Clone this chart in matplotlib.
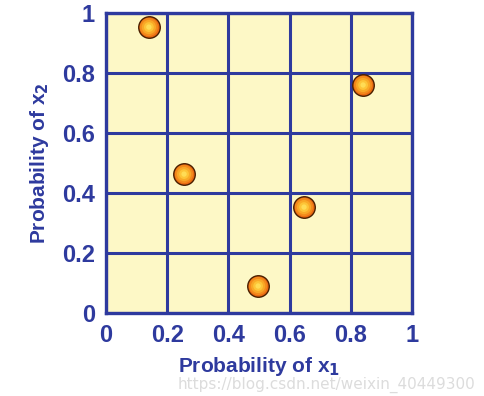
import matplotlib
matplotlib.use("Agg")
import matplotlib.pyplot as plt

# values
px1 = [0.14, 0.255, 0.497, 0.647, 0.84]
px2 = [0.953, 0.463, 0.09, 0.353, 0.76]
ticks = [0, 0.2, 0.4, 0.6, 0.8, 1]
tick_labels = ["0", "0.2", "0.4", "0.6", "0.8", "1"]

plt.rcParams["font.family"] = ["Liberation Sans", "DejaVu Sans"]

BLUE = "#2e3a9e"
BG = "#fdf8c6"

fig = plt.figure(figsize=(4.85, 3.96), dpi=100)
ax = fig.add_axes([0.2186, 0.2096, 0.631, 0.7576])
ax.set_facecolor(BG)
ax.set_xlim(0, 1)
ax.set_ylim(0, 1)
ax.set_xticks(ticks)
ax.set_yticks(ticks)
ax.set_xticklabels(tick_labels)
ax.set_yticklabels(tick_labels)
ax.tick_params(length=0, labelsize=17, labelcolor=BLUE, pad=8)
for lab in ax.get_xticklabels() + ax.get_yticklabels():
    lab.set_fontweight("bold")
ax.grid(True, color=BLUE, linewidth=2.2)
for s in ax.spines.values():
    s.set_color(BLUE)
    s.set_linewidth(2.4)

# ball markers: orange rim fading to a yellow centre
ax.scatter(px1, px2, s=240, color="#ea6a12", edgecolor="#4a1f00", linewidth=1.0, zorder=3)
for size, col in [(170, "#f38a1c"), (105, "#f9a826"), (50, "#fdc437"), (15, "#ffdc55")]:
    ax.scatter(px1, px2, s=size, color=col, edgecolor="none", zorder=4)

ax.set_xlabel("Probability of x$_\\mathbf{1}$", fontsize=15, fontweight="bold", color=BLUE, labelpad=6)
ax.set_ylabel("Probability of x$_\\mathbf{2}$", fontsize=15, fontweight="bold", color=BLUE, labelpad=8)

fig.text(0.98, 0.028, "https://blog.csdn.net/weixin_40449300", ha="right", va="center",
         fontsize=11, color="#dcdcdc", family="DejaVu Sans")

fig.savefig("out.png", dpi=100)
